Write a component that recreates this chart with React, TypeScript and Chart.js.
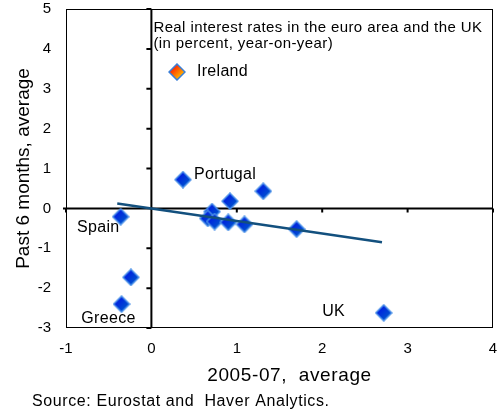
import React, { useEffect, useRef } from "react";
import { Chart, registerables } from "chart.js";

Chart.register(...registerables);

const countryX = [0.37, 1.31, 0.92, -0.36, 0.71, 0.66, 0.74, 0.9, 1.09, 1.7, -0.24, -0.35, 2.72];
const countryY = [0.72, 0.43, 0.18, -0.21, -0.08, -0.25, -0.33, -0.35, -0.4, -0.52, -1.73, -2.4, -2.62];
const trendX = [-0.4, 2.7];
const trendY = [0.12, -0.85];
const xTicks = [-1, 0, 1, 2, 3, 4];
const yTicks = [-3, -2, -1, 0, 1, 2, 3, 4, 5];
const pointLabels = ["Portugal", "Spain", "Greece", "UK"];
const pointLabelX = [0.5, -0.87, -0.82, 2.0];
const pointLabelY = [0.84, -0.48, -2.76, -2.6];
const titleLines = ["Real interest rates in the euro area and the UK", "(in percent, year-on-year)"];
const legendLabel = "Ireland";
const xTitle = "2005-07,  average";
const yTitle = "Past 6 months, average";
const sourceText = "Source: Eurostat and  Haver Analytics.";

const FONT = "'Liberation Sans', Arial, sans-serif";

function makeDiamond(c1: string, c2: string, border: string, r: number) {
  const size = r * 2 + 2;
  const cv = document.createElement("canvas");
  cv.width = size;
  cv.height = size;
  const ctx = cv.getContext("2d")!;
  const c = size / 2;
  const g = ctx.createLinearGradient(c - r / 2, c - r / 2, c + r / 2, c + r / 2);
  g.addColorStop(0, c1);
  g.addColorStop(1, c2);
  ctx.beginPath();
  ctx.moveTo(c, c - r);
  ctx.lineTo(c + r, c);
  ctx.lineTo(c, c + r);
  ctx.lineTo(c - r, c);
  ctx.closePath();
  ctx.fillStyle = g;
  ctx.fill();
  ctx.lineWidth = 1.5;
  ctx.strokeStyle = border;
  ctx.stroke();
  return cv;
}

export default function App() {
  const ref = useRef<HTMLCanvasElement | null>(null);
  useEffect(() => {
    document.body.style.margin = "0";
    const blue = makeDiamond("#0020e0", "#0050d0", "#4a90e8", 8);
    const orange = makeDiamond("#ff2a00", "#ffb000", "#3a7fd8", 8);

    const decor = {
      id: "decor",
      beforeDatasetsDraw(chart: any) {
        const { ctx, chartArea: a, scales } = chart;
        const x0 = scales.x.getPixelForValue(0);
        const y0 = scales.y.getPixelForValue(0);
        ctx.save();
        ctx.strokeStyle = "#000";
        ctx.lineWidth = 1;
        ctx.strokeRect(a.left + 0.5, a.top + 0.5, a.right - a.left - 1, a.bottom - a.top - 1);
        ctx.lineWidth = 2;
        ctx.beginPath();
        ctx.moveTo(x0, a.top);
        ctx.lineTo(x0, a.bottom);
        ctx.moveTo(a.left - 3, y0);
        ctx.lineTo(a.right, y0);
        yTicks.forEach((v) => {
          const py = scales.y.getPixelForValue(v);
          ctx.moveTo(x0 - 5, py);
          ctx.lineTo(x0, py);
        });
        xTicks.forEach((v) => {
          const px = scales.x.getPixelForValue(v);
          ctx.moveTo(px, y0);
          ctx.lineTo(px, y0 + 4);
        });
        ctx.stroke();
        ctx.restore();
      },
      afterDatasetsDraw(chart: any) {
        const { ctx, scales, chartArea: a } = chart;
        ctx.save();
        ctx.fillStyle = "#000";
        ctx.textBaseline = "middle";
        ctx.textAlign = "left";
        ctx.font = `15px ${FONT}`;
        (ctx as any).letterSpacing = "0.4px";
        const tx = scales.x.getPixelForValue(0) + 2;
        ctx.fillText(titleLines[0], tx, 28);
        ctx.fillText(titleLines[1], tx, 44);
        const ly = 72;
        ctx.drawImage(orange, 177 - orange.width / 2, ly - orange.height / 2);
        ctx.font = `16px ${FONT}`;
        (ctx as any).letterSpacing = "0.3px";
        ctx.fillText(legendLabel, 197, ly);
        pointLabels.forEach((t, i) => {
          ctx.fillText(t, scales.x.getPixelForValue(pointLabelX[i]), scales.y.getPixelForValue(pointLabelY[i]));
        });
        ctx.font = `19px ${FONT}`;
        (ctx as any).letterSpacing = "0.6px";
        ctx.textAlign = "center";
        ctx.fillText(xTitle, (a.left + a.right) / 2 + 10, 376);
        ctx.textAlign = "left";
        ctx.font = `16px ${FONT}`;
        (ctx as any).letterSpacing = "0.6px";
        ctx.fillText(sourceText, 32, 402);
        ctx.restore();
      },
    };

    const chart = new Chart(ref.current!, {
      type: "scatter",
      data: {
        datasets: [
          {
            type: "line",
            data: trendX.map((x, i) => ({ x, y: trendY[i] })),
            borderColor: "#13507e",
            borderWidth: 2.5,
            pointRadius: 0,
            fill: false,
          } as any,
          {
            data: countryX.map((x, i) => ({ x, y: countryY[i] })),
            pointStyle: blue as any,
            pointRadius: 8,
          },
        ],
      },
      options: {
        animation: false,
        responsive: false,
        layout: { padding: { top: 8, right: 8, left: 0, bottom: 28 } },
        plugins: { legend: { display: false }, tooltip: { enabled: false } },
        scales: {
          x: {
            type: "linear",
            min: -1,
            max: 4,
            grid: { display: false, drawTicks: false },
            border: { display: false },
            ticks: { stepSize: 1, color: "#000", font: { family: FONT, size: 15 }, padding: 12 },
            afterFit(s: any) {
              s.height = 56;
              s.paddingLeft = 0;
              s.paddingRight = 0;
            },
          },
          y: {
            type: "linear",
            min: -3,
            max: 5,
            grid: { display: false, drawTicks: false },
            border: { display: false },
            ticks: { stepSize: 1, color: "#000", font: { family: FONT, size: 15 }, padding: 15 },
            title: { display: true, text: yTitle, color: "#000", font: { family: FONT, size: 19 }, padding: { top: 12, bottom: 0 } },
            afterFit(s: any) {
              s.width = 66;
              s.paddingTop = 0;
              s.paddingBottom = 0;
            },
          },
        },
      },
      plugins: [decor],
    });
    return () => chart.destroy();
  }, []);
  return <canvas ref={ref} width={502} height={412} style={{ display: "block" }} />;
}
